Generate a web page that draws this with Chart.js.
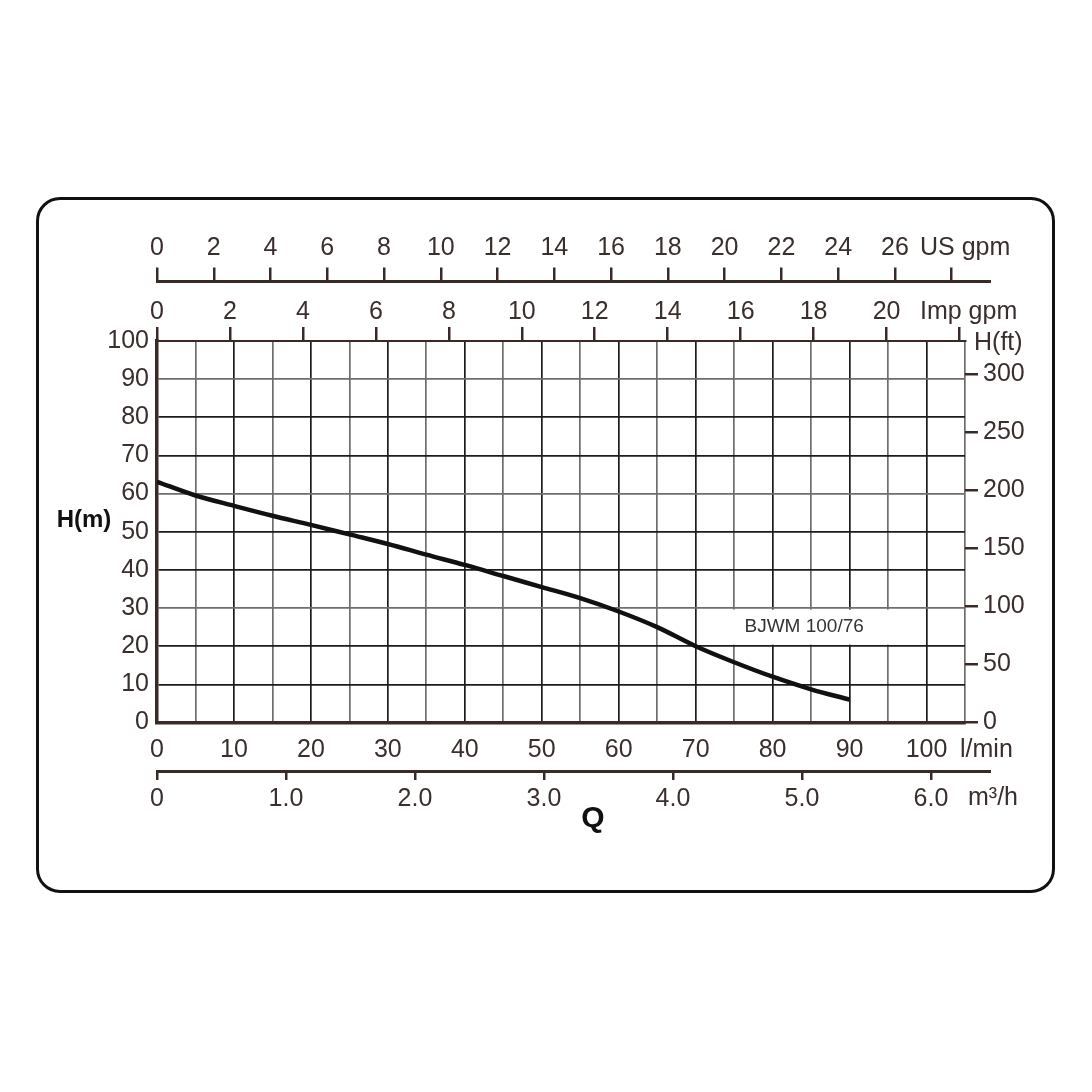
<!DOCTYPE html>
<html>
<head>
<meta charset="utf-8">
<title>BJWM 100/76</title>
<script src="https://cdn.jsdelivr.net/npm/chart.js@4.4.1/dist/chart.umd.min.js"></script>
<style>
  html, body { margin: 0; padding: 0; background: #fff; }
  #wrap { position: relative; width: 1092px; height: 1092px; }
  #frame { position: absolute; left: 36px; top: 197px; width: 1013px; height: 690px;
           border: 3.5px solid #111; border-radius: 24px; }
  #chart { position: absolute; left: 0; top: 0; }
</style>
</head>
<body>
<div id="wrap">
  <div id="frame"></div>
  <canvas id="chart" width="1092" height="1092"></canvas>
</div>
<script>
// pump curve
const flowLmin = [0, 5, 10, 15, 20, 25, 30, 35, 40, 45, 50, 55, 60, 65, 70, 75, 80, 85, 90];
const headM = [63.1, 59.5, 56.8, 54.2, 51.8, 49.3, 46.8, 44.0, 41.3, 38.4, 35.5, 32.6, 29.1, 25.0, 20.0, 15.8, 12.0, 8.7, 6.0];

// tick labels of the six scales
const flowTicks = [0, 10, 20, 30, 40, 50, 60, 70, 80, 90, 100];
const m3hTicks = [0, 1, 2, 3, 4, 5, 6];
const usGpmTicks = [0, 2, 4, 6, 8, 10, 12, 14, 16, 18, 20, 22, 24, 26];
const impGpmTicks = [0, 2, 4, 6, 8, 10, 12, 14, 16, 18, 20];
const headTicks = [0, 10, 20, 30, 40, 50, 60, 70, 80, 90, 100];
const headFtTicks = [0, 50, 100, 150, 200, 250, 300];

const curveName = 'BJWM 100/76';

const FONT = '"Liberation Sans", Arial, Helvetica, sans-serif';
const INK = '#3a2f2c';
const AXIS = '#3a2a26';
const GRID_DARK = '#1c1c1c';
const GRID_GRAY = '#6e6e6e';

const tickFont = { family: FONT, size: 25 };

function labelIf(list, fmt) {
    return function (v) {
        return list.includes(v) ? (fmt ? fmt(v) : String(v)) : '';
    };
}

function fixSize(prop, size) {
    return function (scale) { scale[prop] = size; };
}

// same rounding chart.js uses for a 3px border
function align3(v) {
    return Math.round(v - 1.5) + 1.5;
}

const textPlugin = {
    id: 'extraText',
    afterDatasetsDraw(chart) {
        const c = chart.ctx;
        const x = chart.scales.x, y = chart.scales.y;
        // white box behind the curve name
        const bx0 = x.getPixelForValue(74.2), bx1 = x.getPixelForValue(95.5);
        const by0 = y.getPixelForValue(29.6), by1 = y.getPixelForValue(20.4);
        c.save();
        c.fillStyle = '#fff';
        c.fillRect(bx0, by0, bx1 - bx0, by1 - by0);
        c.fillStyle = '#333';
        c.font = '19px ' + FONT;
        c.textAlign = 'center';
        c.textBaseline = 'middle';
        c.fillText(curveName, x.getPixelForValue(84.1), (by0 + by1) / 2);
        c.restore();
    },
    afterDraw(chart) {
        const c = chart.ctx;
        const area = chart.chartArea;
        const us = chart.scales.us, m3 = chart.scales.m3;
        c.save();
        // the two detached axis lines run a bit past the plot
        c.strokeStyle = AXIS;
        c.lineWidth = 3;
        c.beginPath();
        c.moveTo(area.right - 2, align3(us.bottom));
        c.lineTo(area.right + 26, align3(us.bottom));
        c.moveTo(area.right - 2, align3(m3.top));
        c.lineTo(area.right + 26, align3(m3.top));
        c.stroke();

        c.fillStyle = INK;
        c.font = '25px ' + FONT;
        c.textAlign = 'left';
        c.textBaseline = 'middle';
        c.fillText('US gpm', area.right - 45, 248);
        c.fillText('Imp gpm', area.right - 45, 312);
        c.fillText('H(ft)', area.right + 9, 343);
        c.fillText('l/min', area.right - 5, 750);
        c.fillText('m³/h', area.right + 3, 798);

        c.fillStyle = '#111';
        c.textAlign = 'center';
        c.font = 'bold 24px ' + FONT;
        c.fillText('H(m)', 84, 520);
        c.font = 'bold 30px ' + FONT;
        c.fillText('Q', 593, 819);
        c.restore();
    }
};

const ctx = document.getElementById('chart').getContext('2d');

const pumpChart = new Chart(ctx, {
    type: 'line',
    data: {
        datasets: [{
            label: curveName,
            data: flowLmin.map((q, i) => ({ x: q, y: headM[i] })),
            borderColor: '#111',
            borderWidth: 4.5,
            pointRadius: 0,
            cubicInterpolationMode: 'monotone',
            xAxisID: 'x',
            yAxisID: 'y'
        }]
    },
    options: {
        responsive: false,
        animation: false,
        layout: { padding: 0 },
        plugins: {
            legend: { display: false },
            tooltip: { enabled: false }
        },
        scales: {
            x: {
                type: 'linear', position: 'bottom', weight: 0,
                min: 0, max: 105,
                afterFit: fixSize('height', 48.5),
                border: { display: true, color: AXIS, width: 3.5 },
                grid: {
                    drawTicks: false,
                    lineWidth: 1.7,
                    color: c => (c.tick && c.tick.value % 10 === 0) ? GRID_DARK : GRID_GRAY
                },
                ticks: {
                    stepSize: 5, autoSkip: false, maxRotation: 0, padding: 13,
                    color: INK, font: tickFont,
                    callback: labelIf(flowTicks)
                }
            },
            m3: {
                type: 'linear', position: 'bottom', weight: 1,
                min: 0, max: 6.264,
                afterFit: fixSize('height', 1092 - 771),
                border: { display: true, color: AXIS, width: 3 },
                grid: { drawOnChartArea: false, drawTicks: true, tickLength: 9, lineWidth: 2.5, color: AXIS },
                ticks: {
                    stepSize: 1, includeBounds: false, autoSkip: false, maxRotation: 0, padding: 4,
                    color: INK, font: tickFont,
                    callback: labelIf(m3hTicks, v => v === 0 ? '0' : v.toFixed(1))
                }
            },
            imp: {
                type: 'linear', position: 'top', weight: 0,
                min: 0, max: 22.15,
                afterFit: fixSize('height', 59.5),
                border: { display: true, color: AXIS, width: 2 },
                grid: { drawOnChartArea: false, drawTicks: true, tickLength: 14, lineWidth: 2.5, color: AXIS },
                ticks: {
                    stepSize: 2, includeBounds: false, autoSkip: false, maxRotation: 0, padding: 0,
                    color: INK, font: tickFont,
                    callback: labelIf(impGpmTicks)
                }
            },
            us: {
                type: 'linear', position: 'top', weight: 1,
                min: 0, max: 28.47,
                afterFit: fixSize('height', 281.5),
                border: { display: true, color: AXIS, width: 3 },
                grid: { drawOnChartArea: false, drawTicks: true, tickLength: 14, lineWidth: 2.5, color: AXIS },
                ticks: {
                    stepSize: 2, includeBounds: false, autoSkip: false, maxRotation: 0, padding: 4,
                    color: INK, font: tickFont,
                    callback: labelIf(usGpmTicks)
                }
            },
            y: {
                type: 'linear', position: 'left',
                min: 0, max: 100,
                afterFit: fixSize('width', 157),
                border: { display: true, color: AXIS, width: 3.5 },
                grid: {
                    drawTicks: false,
                    lineWidth: 1.7,
                    color: c => (c.tick && c.tick.value % 30 === 0 && c.tick.value !== 0) ? GRID_GRAY : GRID_DARK
                },
                ticks: {
                    stepSize: 10, autoSkip: false, padding: 8,
                    color: INK, font: tickFont,
                    callback: labelIf(headTicks)
                }
            },
            yft: {
                type: 'linear', position: 'right',
                min: 0, max: 328.5,
                afterFit: fixSize('width', 127),
                border: { display: false },
                grid: { drawOnChartArea: false, drawTicks: true, tickLength: 13, lineWidth: 2.5, color: AXIS },
                ticks: {
                    stepSize: 50, includeBounds: false, autoSkip: false, padding: 5,
                    color: INK, font: tickFont,
                    callback: labelIf(headFtTicks)
                }
            }
        }
    },
    plugins: [textPlugin]
});
</script>
</body>
</html>
